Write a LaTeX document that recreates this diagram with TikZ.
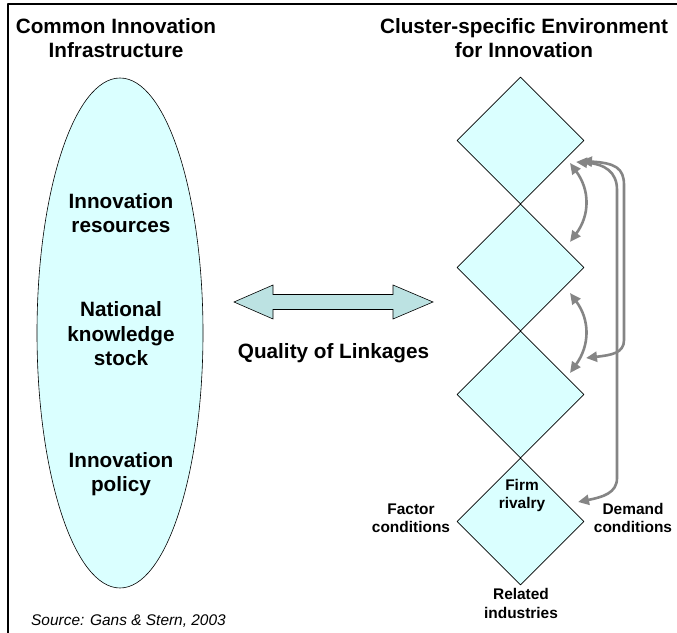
\documentclass[tikz,border=0pt]{standalone}
\usepackage{fontspec}
\setmainfont{Liberation Sans}
\usetikzlibrary{shapes.geometric,arrows.meta}
\definecolor{cyanfill}{HTML}{DAFFFF}
\definecolor{linkfill}{HTML}{BCE2E2}
\definecolor{loopgray}{HTML}{858585}
\begin{document}
\begin{tikzpicture}[>={Triangle[length=11bp,width=10bp]},line join=bevel,
    diamondbox/.style={draw=black,line width=0.6bp,fill=cyanfill,diamond,aspect=1,
      minimum width=127bp,minimum height=127bp,inner sep=0pt},
    infrabox/.style={draw=black,line width=0.6bp,fill=cyanfill,ellipse,
      minimum width=166bp,minimum height=510bp,inner sep=0pt},
    bigtext/.style={font=\fontsize{20.8}{25}\selectfont\bfseries,align=center,inner sep=0pt,anchor=base},
    smalltext/.style={font=\fontsize{15.5}{18.5}\selectfont\bfseries,align=center,inner sep=0pt,anchor=base},
    loop/.style={draw=loopgray,line width=2.6bp,<->},
  ]
    \useasboundingbox (0bp,0bp) rectangle (677bp,633bp);
    %%
    \draw [line width=2bp] (8bp,0bp) -- (8bp,628.5bp) -- (677bp,628.5bp);
    \node (common) at (116.0bp,575.0bp) [bigtext] {Common Innovation\\Infrastructure};
    \node (cluster) at (524.0bp,575.0bp) [bigtext] {Cluster-specific Environment\\for Innovation};
    \node (infra) at (120.0bp,300.0bp) [infrabox] {};
    \node (resources) at (121.0bp,400.0bp) [bigtext] {Innovation\\resources};
    \node (stock) at (121.0bp,267.0bp) [bigtext] {National\\knowledge\\stock};
    \node (policy) at (121.0bp,141.0bp) [bigtext] {Innovation\\policy};
    \node (d1) at (520.5bp,492.5bp) [diamondbox] {};
    \node (d2) at (520.5bp,365.5bp) [diamondbox] {};
    \node (d3) at (520.5bp,238.5bp) [diamondbox] {};
    \node (d4) at (520.5bp,111.5bp) [diamondbox] {};
    \node (firm) at (522.0bp,124.5bp) [smalltext] {Firm\\rivalry};
    \node (factor) at (411.0bp,100.0bp) [smalltext] {Factor\\conditions};
    \node (demand) at (633.0bp,100.0bp) [smalltext] {Demand\\conditions};
    \node (related) at (521.0bp,15.0bp) [smalltext] {Related\\industries};
    \node (quality) at (333.5bp,274.0bp) [bigtext] {Quality of Linkages};
    \node (source) at (31.0bp,8.0bp) [font=\fontsize{15.5}{18}\selectfont\itshape,inner sep=0pt,anchor=base west] {Source: Gans \& Stern, 2003};
    %
    \coordinate (link) at (333.5bp,331.0bp);
    \draw [fill=linkfill,draw=black,line width=0.6bp,line join=miter] (link)
      ++(-99.5bp,0bp) -- ++(39bp,17bp) -- ++(0bp,-9.5bp) -- ++(120bp,0bp) -- ++(0bp,9.5bp)
      -- ++(40bp,-17bp) -- ++(-40bp,-17bp) -- ++(0bp,9.5bp) -- ++(-120bp,0bp) -- ++(0bp,-9.5bp) -- cycle;
    %
    \coordinate (d1se) at (570.0bp,470.0bp);
    \coordinate (d2ne) at (570.0bp,391.0bp);
    \coordinate (d2se) at (570.0bp,340.0bp);
    \coordinate (d3ne) at (570.0bp,260.0bp);
    \coordinate (d1top) at (581.0bp,472.0bp);
    \coordinate (d1mid) at (576.0bp,471.0bp);
    \coordinate (d3in) at (586.0bp,275.0bp);
    \coordinate (d4in) at (578.0bp,131.0bp);
    \draw [loop] (d1se) ..controls (590.0bp,443.0bp) and (590.0bp,418.0bp)  .. (d2ne);
    \draw [loop] (d2se) ..controls (590.0bp,313.0bp) and (590.0bp,288.0bp)  .. (d3ne);
    \draw [loop] (d1top) ..controls (615.0bp,470.0bp) and (624.0bp,465.0bp)  .. (624.0bp,448.0bp)
      -- (624.0bp,293.0bp) ..controls (624.0bp,280.0bp) and (612.0bp,278.0bp)  .. (d3in);
    \draw [loop] (d1mid) ..controls (605.0bp,469.0bp) and (617.0bp,461.0bp)  .. (617.0bp,443.0bp)
      -- (617.0bp,155.0bp) ..controls (617.0bp,140.0bp) and (603.0bp,136.0bp)  .. (d4in);
    %
\end{tikzpicture}
\end{document}
